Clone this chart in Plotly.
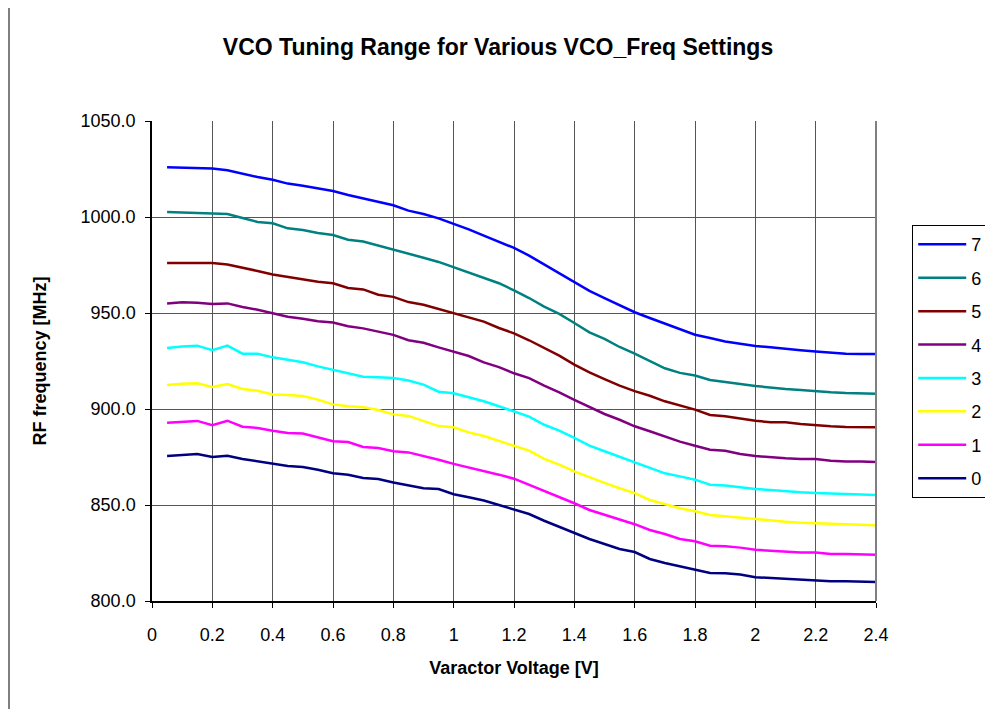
import plotly.graph_objects as go

voltage = [0.05, 0.1, 0.15, 0.2, 0.25, 0.3, 0.35, 0.4, 0.45, 0.5, 0.55, 0.6,
           0.65, 0.7, 0.75, 0.8, 0.85, 0.9, 0.95, 1.0, 1.05, 1.1, 1.15, 1.2,
           1.25, 1.3, 1.35, 1.4, 1.45, 1.5, 1.55, 1.6, 1.65, 1.7, 1.75, 1.8,
           1.85, 1.9, 1.95, 2.0, 2.05, 2.1, 2.15, 2.2, 2.25, 2.3, 2.35, 2.4]

freq_7 = [1025.9, 1025.6, 1025.3, 1025.2, 1024.3, 1022.4, 1020.8, 1019.4, 1017.4, 1016.3, 1014.8, 1013.5,
          1011.5, 1009.7, 1007.8, 1006.1, 1003.3, 1001.6, 999.3, 996.5, 993.6, 990.3, 987.0, 983.9,
          979.9, 975.2, 970.5, 966.1, 961.5, 957.8, 954.3, 950.4, 947.4, 944.4, 941.5, 938.7,
          937.0, 935.2, 934.0, 932.8, 932.1, 931.2, 930.6, 929.9, 929.3, 928.8, 928.6, 928.6]
freq_6 = [1002.6, 1002.4, 1002.3, 1001.9, 1001.6, 999.5, 997.4, 996.7, 994.1, 993.2, 991.7, 990.6,
          988.2, 987.2, 985.2, 983.2, 980.9, 978.8, 976.6, 973.8, 971.4, 968.2, 965.5, 961.8,
          957.8, 953.3, 949.5, 944.8, 939.9, 936.5, 932.3, 928.8, 925.0, 921.2, 918.8, 917.4,
          915.1, 913.9, 913.0, 912.0, 911.1, 910.4, 909.9, 909.2, 908.7, 908.3, 908.0, 908.0]
freq_5 = [976.0, 976.0, 976.0, 976.0, 975.3, 973.4, 971.9, 970.1, 968.8, 967.9, 966.3, 965.5,
          963.0, 962.3, 959.5, 958.4, 955.7, 954.3, 952.1, 949.7, 947.7, 945.5, 942.2, 939.4,
          935.8, 931.8, 927.8, 923.1, 919.1, 915.6, 912.2, 909.3, 906.9, 904.0, 901.7, 899.7,
          896.9, 896.2, 895.1, 893.9, 893.1, 893.1, 892.2, 891.5, 891.0, 890.6, 890.5, 890.5]
freq_4 = [955.0, 955.6, 955.4, 954.7, 955.0, 953.1, 951.7, 949.7, 948.1, 947.0, 945.7, 945.0,
          943.1, 942.0, 940.1, 938.6, 935.8, 934.5, 932.1, 929.7, 927.6, 924.3, 921.8, 918.6,
          916.1, 912.2, 908.7, 904.7, 900.9, 897.4, 894.4, 891.0, 888.4, 885.6, 883.0, 880.9,
          878.8, 878.3, 876.6, 875.5, 874.8, 874.3, 874.0, 874.0, 873.1, 872.7, 872.7, 872.4]
freq_3 = [931.8, 932.6, 933.0, 930.6, 933.0, 928.8, 928.8, 926.9, 925.7, 924.3, 922.2, 920.4,
          918.6, 916.8, 916.5, 916.1, 914.8, 912.7, 909.0, 908.2, 906.1, 904.0, 901.4, 898.8,
          896.0, 891.8, 888.7, 884.9, 880.9, 878.0, 875.2, 872.2, 869.3, 866.5, 864.9, 863.2,
          860.6, 860.2, 859.2, 858.3, 857.8, 857.1, 856.6, 856.3, 856.1, 855.7, 855.6, 855.2]
freq_2 = [912.5, 913.2, 913.4, 911.5, 913.0, 910.4, 909.5, 907.6, 907.3, 906.8, 904.9, 902.4,
          901.4, 900.9, 899.5, 897.2, 896.4, 893.9, 891.1, 890.5, 887.8, 885.9, 883.5, 880.9,
          878.3, 874.0, 871.0, 867.5, 864.4, 861.5, 858.7, 856.2, 852.6, 850.5, 848.3, 846.7,
          844.8, 844.1, 843.4, 842.5, 842.0, 841.3, 840.8, 840.5, 840.3, 839.9, 839.6, 839.4]
freq_1 = [892.9, 893.2, 893.8, 891.5, 893.9, 890.8, 890.1, 888.7, 887.5, 887.2, 885.2, 883.2,
          882.8, 880.2, 879.7, 878.0, 877.4, 875.7, 873.6, 871.4, 869.6, 867.7, 865.8, 863.7,
          860.6, 857.1, 854.3, 850.9, 847.4, 845.0, 842.2, 840.0, 837.0, 834.9, 832.3, 831.1,
          828.8, 828.5, 827.8, 826.7, 826.2, 825.7, 825.3, 825.3, 824.5, 824.5, 824.3, 824.1]
freq_0 = [875.5, 875.9, 876.6, 875.0, 875.7, 874.0, 872.7, 871.4, 870.3, 869.8, 868.4, 866.5,
          865.8, 864.1, 863.5, 861.7, 860.1, 858.7, 858.3, 855.6, 854.0, 852.3, 850.0, 847.6,
          845.3, 841.8, 838.7, 835.8, 832.3, 829.7, 827.1, 825.5, 821.9, 819.8, 818.1, 816.4,
          814.6, 814.5, 813.8, 812.4, 812.0, 811.5, 811.3, 811.0, 810.3, 810.3, 810.1, 809.9]

series_names = ["7", "6", "5", "4", "3", "2", "1", "0"]
series_values = [freq_7, freq_6, freq_5, freq_4, freq_3, freq_2, freq_1, freq_0]
series_colors = ["#0000FF", "#008080", "#800000", "#800080",
                 "#00FFFF", "#FFFF00", "#FF00FF", "#000080"]

x_tick_vals = [0, 0.2, 0.4, 0.6, 0.8, 1.0, 1.2, 1.4, 1.6, 1.8, 2.0, 2.2, 2.4]
x_tick_text = ["0", "0.2", "0.4", "0.6", "0.8", "1", "1.2", "1.4", "1.6", "1.8", "2", "2.2", "2.4"]

FONT = "Arial, 'Liberation Sans', sans-serif"

fig = go.Figure()
for name, vals, col in zip(series_names, series_values, series_colors):
    fig.add_trace(go.Scatter(
        x=voltage, y=vals, name=name, mode="lines",
        line=dict(color=col, width=2.5),
        legendgroup=name,
    ))

fig.update_layout(
    width=993, height=709,
    margin=dict(l=144, r=125, t=113, b=116),
    paper_bgcolor="white", plot_bgcolor="white",
    font=dict(family=FONT, color="black", size=18),
    title=dict(text="<b>VCO Tuning Range for Various VCO_Freq Settings</b>",
               x=490 / 993, xanchor="center", y=1 - 39 / 709, yanchor="middle",
               font=dict(size=23, family=FONT, color="black")),
    showlegend=True,
    legend=dict(x=1.05, xanchor="left", y=0.783, yanchor="top",
                bordercolor="black", borderwidth=1, bgcolor="white",
                font=dict(size=18, family=FONT, color="black"),
                traceorder="grouped", tracegroupgap=7,
                itemwidth=48),
)

fig.update_xaxes(
    range=[0, 2.4], tickvals=x_tick_vals, ticktext=x_tick_text,
    showgrid=True, gridcolor="#555555", gridwidth=1,
    showline=True, linecolor="black", linewidth=1.5, mirror=False,
    ticks="outside", ticklen=5, tickcolor="black",
    ticklabelstandoff=12,
    zeroline=False,
    title=dict(text="<b>Varactor Voltage [V]</b>", standoff=17,
               font=dict(size=18, family=FONT, color="black")),
)
fig.update_yaxes(
    range=[800, 1050], dtick=50, tickformat=".1f",
    showgrid=True, gridcolor="#555555", gridwidth=1,
    showline=True, linecolor="black", linewidth=1.5,
    ticks="outside", ticklen=5, tickcolor="black",
    ticklabelstandoff=6,
    zeroline=False,
    title=dict(text="<b>RF frequency [MHz]</b>", standoff=29,
               font=dict(size=18, family=FONT, color="black")),
)

# right plot-area border (gray) and outer chart frame on the left
fig.add_shape(type="line", xref="paper", yref="paper", x0=1, x1=1, y0=0, y1=1,
              line=dict(color="#808080", width=2))
fig.add_shape(type="line", xref="paper", yref="paper",
              x0=(9 - 152) / 724, x1=(9 - 152) / 724, y0=-0.3, y1=1.3,
              line=dict(color="black", width=1))

fig.write_html("out.html")
